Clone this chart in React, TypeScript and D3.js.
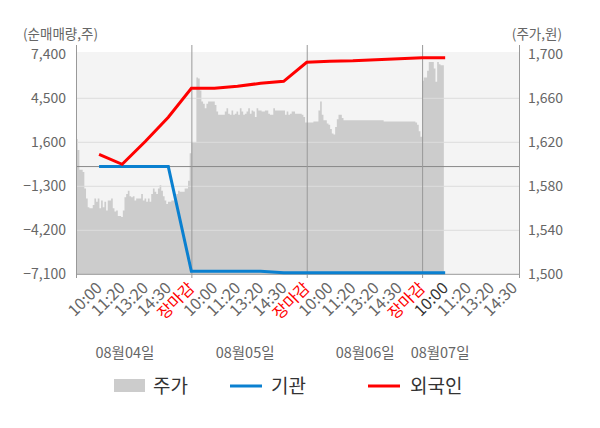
import React, { useEffect, useRef } from 'react';
import * as d3 from 'd3';

const width = 600;
const height = 428;

const dayLabels = ['08월04일', '08월05일', '08월06일', '08월07일'];
const timeLabels = ['10:00', '11:20', '13:20', '14:30', '장마감'];
// where each date label is centred, in time slots (5 slots per trading day)
const dateLabelSlots = [2.12, 7.33, 12.53, 15.78];

const leftTicks = [7400, 4500, 1600, -1300, -4200, -7100];
const rightTicks = [1700, 1660, 1620, 1580, 1540, 1500];

// stock price, sampled evenly through each day
const priceDay1 = [
  1623, 1613, 1595, 1595, 1593, 1578, 1569, 1561, 1560, 1560, 1563, 1569, 1566, 1569,
  1560, 1567, 1561, 1566, 1558, 1567, 1567, 1569, 1560, 1557, 1558, 1553, 1553, 1552,
  1558, 1570, 1573, 1576, 1571, 1570, 1571, 1567, 1569, 1569, 1569, 1573, 1567, 1569,
  1566, 1569, 1566, 1573, 1578, 1575, 1573, 1578, 1581, 1576, 1571, 1567, 1564, 1566,
  1566, 1567, 1567, 1569, 1573, 1576, 1575, 1575, 1575, 1578, 1578, 1585, 1610,
];
const priceDay2 = [
  1620, 1620, 1620, 1679, 1678, 1667, 1657, 1655, 1651, 1655, 1657, 1657, 1657, 1657,
  1654, 1648, 1645, 1645, 1645, 1645, 1648, 1651, 1646, 1645, 1649, 1645, 1646, 1648,
  1645, 1651, 1648, 1645, 1646, 1648, 1651, 1646, 1649, 1648, 1643, 1651, 1649, 1649,
  1648, 1648, 1649, 1649, 1646, 1645, 1645, 1651, 1649, 1649, 1649, 1649, 1649, 1649,
  1645, 1648, 1645, 1646, 1648, 1648, 1646, 1646, 1646, 1646, 1645, 1643, 1638,
];
const priceDay3 = [
  1638, 1638, 1638, 1638, 1639, 1639, 1639, 1649, 1657, 1645, 1640, 1640, 1637, 1636,
  1632, 1628, 1627, 1634, 1641, 1645, 1645, 1642, 1640, 1640, 1640, 1640, 1640, 1640,
  1640, 1640, 1640, 1640, 1640, 1640, 1640, 1640, 1640, 1640, 1640, 1640, 1640, 1640,
  1640, 1640, 1640, 1640, 1639, 1639, 1639, 1639, 1639, 1639, 1639, 1639, 1639, 1639,
  1639, 1639, 1639, 1639, 1639, 1639, 1639, 1639, 1639, 1638, 1636, 1630, 1625,
];
const priceDay4 = [1676, 1679, 1679, 1685, 1693, 1693, 1693, 1687, 1675, 1693, 1691, 1690, 1690];
const priceDays = [priceDay1, priceDay2, priceDay3, priceDay4];
const samplesPerDay = 69;

// cumulative net buying at each labelled time (10:00 ... 장마감), last one 08/07 10:00
const institution = [0, 0, 0, 0, -6900, -6900, -6900, -6900, -6990, -6990, -6990, -6990, -6990, -6990, -6990, -6990];
const foreigner = [800, 150, 1650, 3250, 5160, 5160, 5290, 5490, 5620, 6870, 6940, 6970, 7040, 7100, 7170, 7180];

const font = '"Noto Sans CJK KR", "Noto Sans", sans-serif';

export default function App() {
  const svgRef = useRef<SVGSVGElement>(null);

  useEffect(() => {
    if (!svgRef.current) return;
    const svg = d3.select(svgRef.current);
    svg.selectAll('*').remove();

    const left = 76, right = 519, top = 54.3, bottom = 274.3;

    const x = d3.scaleLinear().domain([0, 19.2]).range([left, right]);
    const yL = d3.scaleLinear().domain([-7100, 7400]).range([bottom, top]);
    const yR = d3.scaleLinear().domain([1500, 1700]).range([bottom, top]);

    // plot background
    svg.append('rect')
      .attr('x', left).attr('y', 52)
      .attr('width', right - left).attr('height', bottom - 52)
      .attr('fill', '#f4f4f4');

    // price area
    const pricePts: [number, number][] = [];
    priceDays.forEach((vals, d) => {
      vals.forEach((v, i) => pricePts.push([d * 5 + (i * 5) / samplesPerDay, v]));
      if (d === priceDays.length - 1) {
        pricePts.push([d * 5 + (vals.length * 5) / samplesPerDay, vals[vals.length - 1]]);
      }
    });
    const area = d3.area<[number, number]>()
      .x(d => x(d[0]))
      .y0(yR(1500))
      .y1(d => yR(d[1]))
      .curve(d3.curveStepAfter);
    svg.append('path').attr('d', area(pricePts) as string).attr('fill', '#cccccc');

    // horizontal grid
    svg.selectAll('line.grid')
      .data(leftTicks.slice(1, -1))
      .enter()
      .append('line')
      .attr('x1', left).attr('x2', right)
      .attr('y1', d => yL(d)).attr('y2', d => yL(d))
      .attr('stroke', '#dddddd').attr('stroke-width', 1);

    // zero line
    svg.append('line')
      .attr('x1', left).attr('x2', right)
      .attr('y1', yL(0)).attr('y2', yL(0))
      .attr('stroke', '#888').attr('stroke-width', 1);

    // bottom axis line
    svg.append('line')
      .attr('x1', left).attr('x2', right + 0.5)
      .attr('y1', bottom).attr('y2', bottom)
      .attr('stroke', '#999').attr('stroke-width', 1);

    // day separators + side axes
    const vlines = [0, 5, 10, 15, 19.2];
    svg.selectAll('line.v')
      .data(vlines)
      .enter()
      .append('line')
      .attr('x1', d => x(d) + 0.5).attr('x2', d => x(d) + 0.5)
      .attr('y1', 45).attr('y2', 278)
      .attr('stroke', '#999').attr('stroke-width', 1);

    // investor lines
    const line = d3.line<number>().x((_, i) => x(i + 1)).y(d => yL(d));
    svg.append('path')
      .attr('d', line(institution) as string)
      .attr('fill', 'none').attr('stroke', '#0a80d0').attr('stroke-width', 3);
    svg.append('path')
      .attr('d', line(foreigner) as string)
      .attr('fill', 'none').attr('stroke', '#ff0000').attr('stroke-width', 3);

    // y axis labels
    svg.selectAll('text.yl')
      .data(leftTicks)
      .enter()
      .append('text')
      .attr('x', 66).attr('y', d => yL(d) + 5)
      .attr('text-anchor', 'end')
      .style('font-family', font).style('font-size', '14px').style('fill', '#666')
      .text(d => d3.format(',')(d));
    svg.selectAll('text.yr')
      .data(rightTicks)
      .enter()
      .append('text')
      .attr('x', 528).attr('y', d => yR(d) + 5)
      .style('font-family', font).style('font-size', '14px').style('fill', '#666')
      .text(d => d3.format(',')(d));

    svg.append('text')
      .attr('x', 23).attr('y', 39)
      .style('font-family', font).style('font-size', '13.5px').style('fill', '#666')
      .text('(순매매량,주)');
    svg.append('text')
      .attr('x', 562).attr('y', 39)
      .attr('text-anchor', 'end')
      .style('font-family', font).style('font-size', '13.5px').style('fill', '#666')
      .text('(주가,원)');

    // time labels
    const ticks: { slot: number; label: string; color: string }[] = [];
    dayLabels.forEach((_, d) => {
      const n = d === dayLabels.length - 1 ? 4 : 5;
      for (let k = 0; k < n; k++) {
        const label = timeLabels[k];
        let color = '#666';
        if (label === '장마감') color = '#ff0000';
        if (d === dayLabels.length - 1 && k === 0) color = '#333';
        ticks.push({ slot: d * 5 + k + 1, label, color });
      }
    });
    svg.selectAll('text.tx')
      .data(ticks)
      .enter()
      .append('text')
      .attr('transform', d => `translate(${x(d.slot) + 4},289) rotate(-45)`)
      .attr('text-anchor', 'end')
      .style('font-family', font).style('font-size', '16px')
      .style('fill', d => d.color)
      .text(d => d.label);

    // date labels
    svg.selectAll('text.date')
      .data(dayLabels)
      .enter()
      .append('text')
      .attr('x', (_, i) => x(dateLabelSlots[i]))
      .attr('y', 358)
      .attr('text-anchor', 'middle')
      .style('font-family', font).style('font-size', '14.5px').style('fill', '#666')
      .text(d => d);

    // legend
    const lg = svg.append('g').style('font-family', font).style('font-size', '19px').style('fill', '#333');
    lg.append('rect').attr('x', 114).attr('y', 379).attr('width', 31).attr('height', 13).attr('fill', '#cccccc');
    lg.append('text').attr('x', 153).attr('y', 393).text('주가');
    lg.append('line').attr('x1', 230).attr('x2', 262).attr('y1', 386).attr('y2', 386)
      .attr('stroke', '#0a80d0').attr('stroke-width', 3);
    lg.append('text').attr('x', 271).attr('y', 393).text('기관');
    lg.append('line').attr('x1', 368).attr('x2', 400).attr('y1', 386).attr('y2', 386)
      .attr('stroke', '#ff0000').attr('stroke-width', 3);
    lg.append('text').attr('x', 410).attr('y', 393).text('외국인');
  }, []);

  return (
    <div style={{ position: 'absolute', left: 0, top: 0 }}>
      <svg ref={svgRef} width={width} height={height} style={{ display: 'block', background: '#fff' }} />
    </div>
  );
}
